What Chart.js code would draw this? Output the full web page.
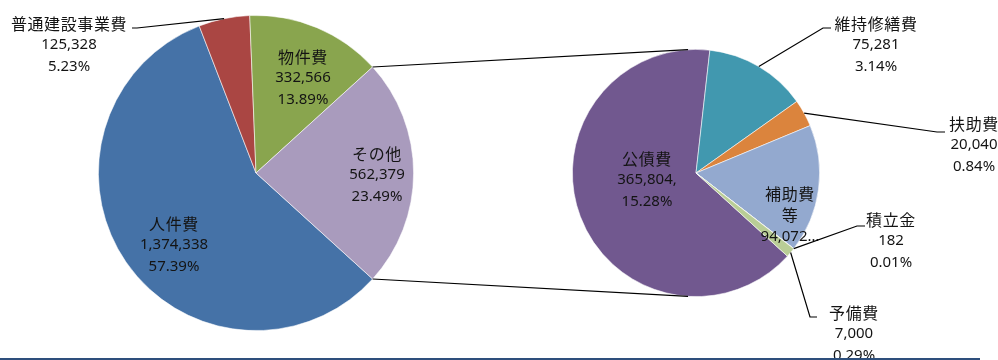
<!DOCTYPE html>
<html>
<head>
<meta charset="utf-8">
<script src="https://cdn.jsdelivr.net/npm/chart.js@4.4.1/dist/chart.umd.min.js"></script>
<style>
  html, body { margin: 0; padding: 0; background: #fff; }
  #wrap { position: relative; width: 998px; height: 360px; overflow: hidden; }
  #wrap canvas { position: absolute; left: 0; top: 0; }
  #rule { position: absolute; left: 0; top: 358px; width: 980px; height: 2px; background: #2e4f7c; }
</style>
</head>
<body>
<div id="wrap">
  <canvas id="mainPie" width="998" height="360"></canvas>
  <canvas id="subPie" width="998" height="360"></canvas>
  <div id="rule"></div>
</div>
<script>
// 歳出の内訳（主円）と「その他」の内訳（補助円）
const mainLabels = ['人件費', '普通建設事業費', '物件費', 'その他'];
const mainValues = [1374338, 125328, 332566, 562379];
const mainColors = ['#4572A7', '#AA4643', '#89A54E', '#A99BBD'];

const subLabels = ['公債費', '維持修繕費', '扶助費', '補助費等', '積立金', '予備費'];
const subValues = [365804, 75281, 20040, 94072, 182, 7000];
const subColors = ['#71588F', '#4198AF', '#DB843D', '#93A9CF', '#D19392', '#B9CD96'];

const total = mainValues.reduce((a, b) => a + b, 0);
const fmt = v => v.toLocaleString('en-US');
const pct = v => (v / total * 100).toFixed(2) + '%';

// label placement: offset of the middle line from the pie centre,
// optional leader (offsets of elbow and end from the pie centre)
const mainLayout = [
    { dx: -82, dy: 72 },
    { dx: -187, dy: -128, leader: [[-119, -145], [-124, -145]] },
    { dx: 47, dy: -95 },
    { dx: 121, dy: 2 }
];
const subLayout = [
    { dx: -49, dy: 7, trail: ',' },
    { dx: 180, dy: -128, leader: [[127, -145], [135, -145]] },
    { dx: 278, dy: -28, leader: [[241, -41], [249, -41]] },
    { dx: 94, dy: 42, wrap: ['補助費', '等'], cut: true },
    { dx: 195, dy: 68, leader: [[161, 53], [169, 53]] },
    { dx: 158, dy: 161, leader: [[114, 144], [121, 144]] }
];

const NUM_FONT = "15px 'Noto Sans', sans-serif";
const JP_FONT = "16px 'Noto Sans CJK JP', sans-serif";
const LINE_H = 21.5;

function labelLines(name, value, lay) {
    const names = lay.wrap || [name];
    if (lay.cut) return names.concat([fmt(value) + '…']);
    return names.concat([fmt(value) + (lay.trail || ''), pct(value)]);
}

function drawText(ctx, lines, cx, cy) {
    const top = cy - (lines.length - 1) / 2 * LINE_H;
    lines.forEach((t, i) => {
        const jp = /[^\x00-\x7f]/.test(t) && !t.endsWith('…');
        ctx.font = jp ? JP_FONT : NUM_FONT;
        ctx.letterSpacing = jp ? '0.6px' : '0px';
        ctx.fillText(t, cx, top + i * LINE_H);
    });
}

const pieLabels = {
    id: 'pieLabels',
    afterDraw(chart, args, opts) {
        const ctx = chart.ctx;
        const meta = chart.getDatasetMeta(0);
        const values = chart.data.datasets[0].data;
        const names = chart.data.labels;
        ctx.save();
        ctx.fillStyle = '#141414';
        ctx.strokeStyle = '#000';
        ctx.lineWidth = 1.2;
        ctx.textAlign = 'center';
        ctx.textBaseline = 'middle';
        meta.data.forEach((arc, i) => {
            const lay = opts.layout[i];
            const cx = arc.x, cy = arc.y;
            if (lay.leader) {
                const mid = (arc.startAngle + arc.endAngle) / 2;
                ctx.beginPath();
                ctx.moveTo(cx + Math.cos(mid) * arc.outerRadius, cy + Math.sin(mid) * arc.outerRadius);
                lay.leader.forEach(p => ctx.lineTo(cx + p[0], cy + p[1]));
                ctx.stroke();
            }
            drawText(ctx, labelLines(names[i], values[i], lay), cx + lay.dx, cy + lay.dy);
        });
        ctx.restore();
    }
};

// lines joining the edges of その他 to the top and bottom of the sub pie
const pieJoin = {
    id: 'pieJoin',
    afterDatasetsDraw(chart, args, opts) {
        const src = opts.source.getDatasetMeta(0).data[opts.index];
        const dst = chart.getDatasetMeta(0).data[0];
        const ctx = chart.ctx;
        const tilt = opts.tilt * Math.PI / 180;
        const ends = [
            [src.startAngle, -Math.PI / 2 - tilt],
            [src.endAngle, Math.PI / 2 + tilt]
        ];
        ctx.save();
        ctx.strokeStyle = '#000';
        ctx.lineWidth = 1.2;
        ends.forEach(([a, b]) => {
            ctx.beginPath();
            ctx.moveTo(src.x + Math.cos(a) * src.outerRadius, src.y + Math.sin(a) * src.outerRadius);
            ctx.lineTo(dst.x + Math.cos(b) * dst.outerRadius, dst.y + Math.sin(b) * dst.outerRadius);
            ctx.stroke();
        });
        ctx.restore();
    }
};

// その他 sits centred on the right-hand side; the sub pie closes at the same angle
const otherDeg = 360 * mainValues[3] / total;
const startDeg = 90 + otherDeg / 2;

const common = {
    responsive: false,
    animation: false,
    events: [],
    plugins: { legend: { display: false }, tooltip: { enabled: false } }
};

const mainChart = new Chart(document.getElementById('mainPie'), {
    type: 'pie',
    data: {
        labels: mainLabels,
        datasets: [{
            data: mainValues,
            backgroundColor: mainColors,
            borderColor: 'rgba(255,255,255,0.7)',
            borderWidth: 0.8
        }]
    },
    options: Object.assign({}, common, {
        rotation: startDeg,
        layout: { padding: { left: 98, right: 584, top: 15, bottom: 29 } },
        plugins: Object.assign({}, common.plugins, { pieLabels: { layout: mainLayout } })
    }),
    plugins: [pieLabels]
});

const subChart = new Chart(document.getElementById('subPie'), {
    type: 'pie',
    data: {
        labels: subLabels,
        datasets: [{
            data: subValues,
            backgroundColor: subColors,
            borderColor: 'rgba(255,255,255,0.7)',
            borderWidth: 0.8
        }]
    },
    options: Object.assign({}, common, {
        rotation: startDeg,
        layout: { padding: { left: 572, right: 178, top: 49, bottom: 63 } },
        plugins: Object.assign({}, common.plugins, {
            pieLabels: { layout: subLayout },
            pieJoin: { source: mainChart, index: 3, tilt: 3.7 }
        })
    }),
    plugins: [pieJoin, pieLabels]
});
</script>
</body>
</html>
